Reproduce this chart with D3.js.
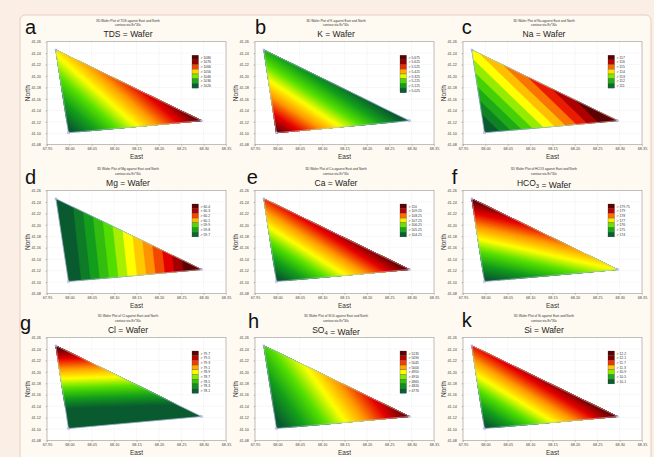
<!DOCTYPE html>
<html>
<head>
<meta charset="utf-8">
<script src="https://cdn.jsdelivr.net/npm/d3@7"></script>
<style>
  html, body { margin: 0; padding: 0; background: #fbeee5; }
  svg { display: block; font-family: Arial, "Liberation Sans", sans-serif; }
</style>
</head>
<body>
<svg id="chart" width="654" height="457"></svg>
<script>
// Sampling stations (East, North): top-left, bottom, right
const stationEast  = [67.970, 67.998, 68.295];
const stationNorth = [41.2455, 41.1010, 41.1220];

// Axis tick values
const eastTicks  = [67.95, 68.00, 68.05, 68.10, 68.15, 68.20, 68.25, 68.30, 68.35];
const northTicks = [41.08, 41.10, 41.12, 41.14, 41.16, 41.18, 41.20, 41.22, 41.24, 41.26];

// Panel letters and variables
const panelLetters  = ["a", "b", "c", "d", "e", "f", "g", "h", "k"];
const variableNames = ["TDS", "K", "Na", "Mg", "Ca", "HCO3", "Cl", "SO4", "Si"];

// Measured values at the three stations
const tdsValues  = [1055, 1024, 1080];
const kValues    = [5.16, 5.675, 5.00];
const naValues   = [114.1, 110.8, 117.4];
const mgValues   = [59.66, 59.68, 60.45];
const caValues   = [108.7, 104.0, 110.0];
const hco3Values = [179.75, 173.8, 176.9];
const clValues   = [79.75, 77.6, 77.8];
const so4Values  = [4885, 4760, 5135];
const siValues   = [11.78, 10.0, 12.2];

// Contour legend levels
const tdsLevels  = [1080, 1076, 1066, 1056, 1046, 1036, 1026];
const kLevels    = [5.675, 5.625, 5.525, 5.425, 5.325, 5.225, 5.125, 5.025];
const naLevels   = [117, 116, 115, 114, 113, 112, 111];
const mgLevels   = [60.4, 60.3, 60.2, 60.1, 59.9, 59.8, 59.7];
const caLevels   = [110, 109.25, 108.25, 107.25, 106.25, 105.25, 104.25];
const hco3Levels = [179.75, 179, 178, 177, 176, 175, 174];
const clLevels   = [79.7, 79.5, 79.3, 79.1, 78.9, 78.7, 78.5, 78.3, 78.1];
const so4Levels  = [5135, 5090, 5045, 5000, 4955, 4910, 4865, 4820, 4776];
const siLevels   = [12.2, 12.1, 11.7, 11.3, 10.9, 10.5, 10.1];

const panels = [
  { values: tdsValues,  levels: tdsLevels  },
  { values: kValues,    levels: kLevels    },
  { values: naValues,   levels: naLevels   },
  { values: mgValues,   levels: mgLevels   },
  { values: caValues,   levels: caLevels   },
  { values: hco3Values, levels: hco3Levels },
  { values: clValues,   levels: clLevels   },
  { values: so4Values,  levels: so4Levels  },
  { values: siValues,   levels: siLevels   }
].map((p, i) => Object.assign(p, { letter: panelLetters[i], name: variableNames[i] }));

// ---- layout ----
const colLeft = [47, 255, 463];
const rowTop  = [41.7, 190.5, 337.5];
const plotW = 179, plotH = 103;
// number of filled contour bands per panel (c and d are coarse)
const bandCount = [48, 48, 11, 13, 48, 48, 48, 48, 48];
// letter offsets relative to plot box (dx from left, baseline from top)
const letterPos = [[-22, -8.2], [0, -8.2], [-1.3, -8.2],
                   [-22, -7], [-8.3, -7], [-11.3, -7],
                   [-27, -7.5], [-7, -9.2], [-1.3, -10.8]];

// green -> yellow -> red wafer palette
const ramp = d3.scaleLinear()
  .domain([0, 0.17, 0.34, 0.5, 0.66, 0.83, 1])
  .range(["#0a5a30", "#139e1c", "#55e000", "#ffff00", "#ff9800", "#e60000", "#5c0000"])
  .clamp(true);

const svg = d3.select("#chart");

// page panel
svg.append("rect")
  .attr("x", 20).attr("y", 15).attr("width", 631).attr("height", 460).attr("rx", 5)
  .attr("fill", "#fffaf1").attr("stroke", "#e6cdc0").attr("stroke-width", 1);

// keep the part of a convex polygon where the field is >= c
function clipAbove(pts, c) {
  const out = [];
  for (let i = 0; i < pts.length; i++) {
    const a = pts[i], b = pts[(i + 1) % pts.length];
    const ain = a.v >= c, bin = b.v >= c;
    if (ain) out.push(a);
    if (ain !== bin) {
      const t = (c - a.v) / (b.v - a.v);
      out.push({ x: a.x + t * (b.x - a.x), y: a.y + t * (b.y - a.y), v: c });
    }
  }
  return out;
}

// title text with chemical subscripts
function chemText(sel, name, size) {
  name.split(/(\d+)/).filter(s => s.length).forEach(part => {
    if (/^\d+$/.test(part)) {
      sel.append("tspan").attr("font-size", size * 0.7).attr("dy", size * 0.25).text(part);
      sel.append("tspan").attr("dy", -size * 0.25).text("");
    } else {
      sel.append("tspan").text(part);
    }
  });
}

panels.forEach((p, i) => {
  const col = i % 3, row = Math.floor(i / 3);
  const L = colLeft[col], T = rowTop[row];
  const x = d3.scaleLinear().domain([67.95, 68.35]).range([L, L + plotW]);
  const y = d3.scaleLinear().domain([41.08, 41.26]).range([T + plotH, T]);
  const g = svg.append("g");

  // plot area
  g.append("rect").attr("x", L).attr("y", T).attr("width", plotW).attr("height", plotH)
    .attr("fill", "#ffffff");

  // grid
  g.append("g").selectAll("line.v").data(eastTicks).join("line")
    .attr("x1", d => x(d)).attr("x2", d => x(d)).attr("y1", T).attr("y2", T + plotH)
    .attr("stroke", "#d9d9d9").attr("stroke-width", 0.4).attr("stroke-dasharray", "1,1");
  g.append("g").selectAll("line.h").data(northTicks).join("line")
    .attr("x1", L).attr("x2", L + plotW).attr("y1", d => y(d)).attr("y2", d => y(d))
    .attr("stroke", "#d9d9d9").attr("stroke-width", 0.4).attr("stroke-dasharray", "1,1");

  // filled contour field (linear over the station triangle)
  const tri = stationEast.map((e, k) => ({ x: x(e), y: y(stationNorth[k]), v: p.values[k] }));
  const lo = d3.min(p.levels), hi = d3.max(p.levels);
  const n = bandCount[i];
  const step = (hi - lo) / n;
  const line = d3.line().x(d => d.x).y(d => d.y).curve(d3.curveLinearClosed);
  const bands = [{ poly: tri, color: ramp(0) }];
  for (let b = 1; b < n; b++) {
    const poly = clipAbove(tri, lo + b * step);
    if (poly.length > 2) bands.push({ poly, color: ramp(b / (n - 1)) });
  }
  g.append("g").selectAll("path").data(bands).join("path")
    .attr("d", d => line(d.poly))
    .attr("fill", d => d.color)
    .attr("stroke", d => d.color).attr("stroke-width", 0.3);

  // wafer outline and station markers
  g.append("path").attr("d", line(tri)).attr("fill", "none")
    .attr("stroke", "#b4b8ee").attr("stroke-width", 0.6);
  g.append("g").selectAll("circle").data(tri).join("circle")
    .attr("cx", d => d.x).attr("cy", d => d.y).attr("r", 1.1)
    .attr("fill", "#c9ccf5").attr("stroke", "#7c80d8").attr("stroke-width", 0.4);

  // frame
  g.append("rect").attr("x", L).attr("y", T).attr("width", plotW).attr("height", plotH)
    .attr("fill", "none").attr("stroke", "#9a9a9a").attr("stroke-width", 0.6);

  // axes
  const ax = g.append("g").attr("transform", `translate(0,${T + plotH})`)
    .call(d3.axisBottom(x).tickValues(eastTicks).tickFormat(d3.format(".2f")).tickSize(1.5).tickPadding(1));
  const ay = g.append("g").attr("transform", `translate(${L},0)`)
    .call(d3.axisLeft(y).tickValues(northTicks).tickFormat(d3.format(".2f")).tickSize(1.5).tickPadding(4.5));
  [ax, ay].forEach(a => {
    a.select(".domain").remove();
    a.selectAll("line").attr("stroke", "#777").attr("stroke-width", 0.4);
    a.selectAll("text").attr("font-size", 3.8).attr("fill", "#444")
      .attr("font-family", "Arial, 'Liberation Sans', sans-serif");
  });

  // axis titles
  g.append("text").attr("x", L + plotW / 2).attr("y", T + plotH + 14.5)
    .attr("text-anchor", "middle").attr("font-size", 6.5).attr("fill", "#333").text("East");
  g.append("text").attr("transform", `translate(${L - 17},${T + plotH / 2}) rotate(-90)`)
    .attr("text-anchor", "middle").attr("font-size", 6.5).attr("fill", "#333").text("North");

  // titles
  const cx = L + 81;
  g.append("text").attr("x", cx).attr("y", T - 20.2).attr("text-anchor", "middle")
    .attr("font-size", 3.2).attr("fill", "#333")
    .text(`3D Wafer Plot of ${p.name} against East and North`);
  g.append("text").attr("x", cx).attr("y", T - 15.4).attr("text-anchor", "middle")
    .attr("font-size", 3.2).attr("fill", "#333").text("contour.sta 8v*30c");
  const tt = g.append("text").attr("x", cx).attr("y", T - 5).attr("text-anchor", "middle")
    .attr("font-size", 8.5).attr("fill", "#222");
  chemText(tt, p.name, 8.5);
  tt.append("tspan").text(" = Wafer");

  // panel letter
  g.append("text").attr("x", L + letterPos[i][0]).attr("y", T + letterPos[i][1])
    .attr("font-size", 20).attr("fill", "#111").text(p.letter);

  // legend
  const legX = L + 145, legY = T + 13.5, rowH = 4.7;
  const lg = g.append("g");
  lg.selectAll("rect").data(p.levels).join("rect")
    .attr("x", legX).attr("y", (d, k) => legY + k * rowH)
    .attr("width", 6.5).attr("height", rowH)
    .attr("fill", d => ramp(Math.min(1, (d - lo) / (hi - lo) + 0.5 / n)))
    .attr("stroke", "#333").attr("stroke-width", 0.25);
  lg.selectAll("text").data(p.levels).join("text")
    .attr("x", legX + 8.5).attr("y", (d, k) => legY + k * rowH + rowH / 2 + 1.2)
    .attr("font-size", 3.4).attr("fill", "#333").text(d => "> " + d);
});
</script>
</body>
</html>
